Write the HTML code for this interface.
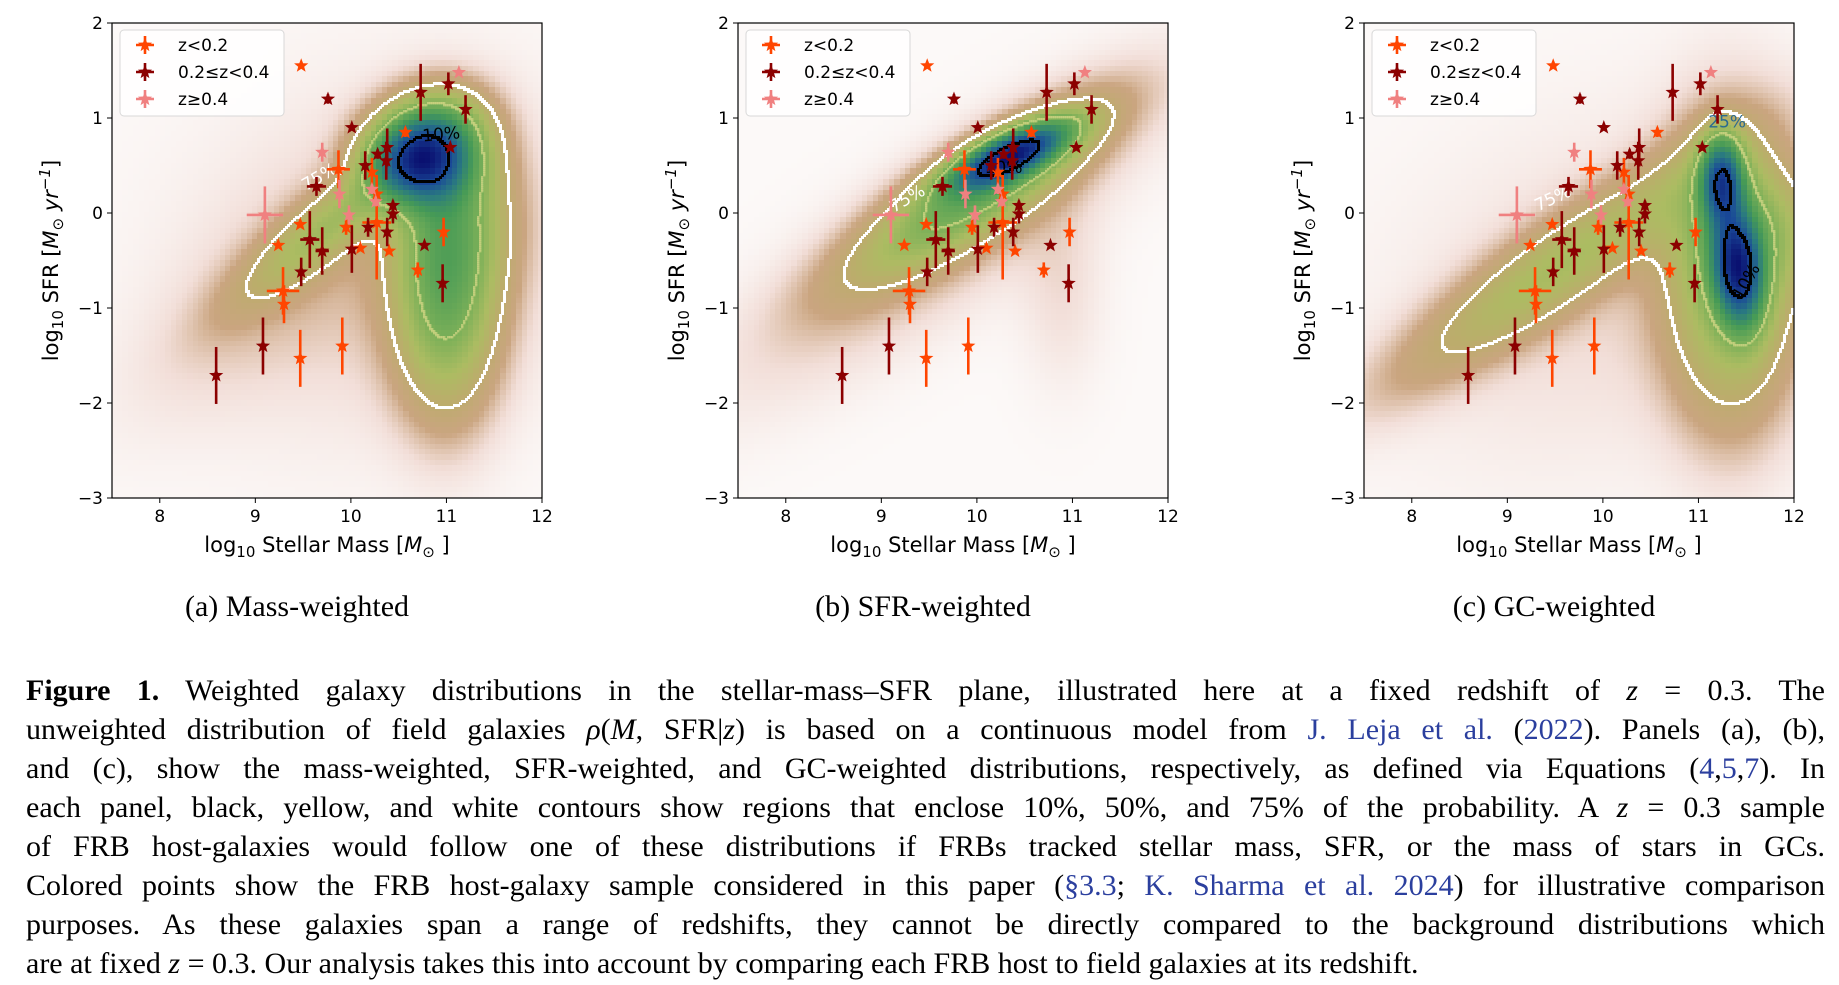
<!DOCTYPE html>
<html><head><meta charset="utf-8">
<style>
html,body{margin:0;padding:0;background:#fff;width:1839px;height:985px;overflow:hidden;position:relative;font-family:"DejaVu Sans","Liberation Sans",sans-serif}
canvas{position:absolute;image-rendering:pixelated}
#ov{position:absolute;left:0;top:0}
.sub{position:absolute;top:590px;font-family:"Liberation Serif",serif;font-size:30px;transform:translateX(-50%);white-space:nowrap}
.cap{position:absolute;left:26px;width:1799px;font-family:"Liberation Serif",serif;font-size:30px;line-height:39px;text-align:justify;text-align-last:justify;white-space:nowrap;overflow:visible}
.cap span.l{color:#2b3f9e}
.cap i{font-style:italic}
</style></head><body>
<canvas id="c0"></canvas>
<canvas id="c1"></canvas>
<canvas id="c2"></canvas>
<svg id="ov" width="1839" height="985"></svg>
<div class="sub" style="left:297px">(a) Mass-weighted</div>
<div class="sub" style="left:923px">(b) SFR-weighted</div>
<div class="sub" style="left:1554px">(c) GC-weighted</div>
<div>
<div class="cap" style="top:671px"><b>Figure 1.</b> Weighted galaxy distributions in the stellar-mass–SFR plane, illustrated here at a fixed redshift of <i>z</i> = 0.3. The</div>
<div class="cap" style="top:710px">unweighted distribution of field galaxies <i>ρ</i>(<i>M</i>, SFR|<i>z</i>) is based on a continuous model from <span class="l">J. Leja et al.</span> (<span class="l">2022</span>). Panels (a), (b),</div>
<div class="cap" style="top:749px">and (c), show the mass-weighted, SFR-weighted, and GC-weighted distributions, respectively, as defined via Equations (<span class="l">4</span>,<span class="l">5</span>,<span class="l">7</span>). In</div>
<div class="cap" style="top:788px">each panel, black, yellow, and white contours show regions that enclose 10%, 50%, and 75% of the probability. A <i>z</i> = 0.3 sample</div>
<div class="cap" style="top:827px">of FRB host-galaxies would follow one of these distributions if FRBs tracked stellar mass, SFR, or the mass of stars in GCs.</div>
<div class="cap" style="top:866px">Colored points show the FRB host-galaxy sample considered in this paper (<span class="l">§3.3</span>; <span class="l">K. Sharma et al. 2024</span>) for illustrative comparison</div>
<div class="cap" style="top:905px">purposes. As these galaxies span a range of redshifts, they cannot be directly compared to the background distributions which</div>
<div class="cap" style="top:944px;text-align-last:left">are at fixed <i>z</i> = 0.3. Our analysis takes this into account by comparing each FRB host to field galaxies at its redshift.</div>
</div>
<script>
// ---- data: FRB host sample ----
const mass  = [9.48,10.57,9.87,10.22,10.27,9.47,9.95,10.27,9.24,10.1,10.4,10.7,10.97,9.29,9.3,9.47,9.91,
               9.76,10.01,10.73,11.02,11.2,11.04,10.38,10.28,10.15,10.37,9.64,9.57,9.7,9.48,10.01,10.18,10.44,10.44,10.38,10.77,10.96,9.08,8.59,
               11.13,9.7,9.88,10.22,10.26,9.98,9.1];
const sfr   = [1.55,0.85,0.46,0.43,0.2,-0.12,-0.15,-0.1,-0.34,-0.37,-0.4,-0.6,-0.2,-0.82,-0.96,-1.53,-1.4,
               1.2,0.9,1.27,1.36,1.09,0.69,0.69,0.62,0.5,0.55,0.28,-0.28,-0.4,-0.62,-0.38,-0.15,0.08,-0.01,-0.2,-0.34,-0.74,-1.4,-1.71,
               1.48,0.64,0.2,0.25,0.12,-0.02,-0.02];
const xErr  = [0,0,0.12,0,0,0,0,0.15,0,0,0,0,0,0.17,0,0,0,
               0,0,0,0,0,0,0,0,0,0,0.1,0.1,0.07,0,0,0,0,0,0,0,0,0,0,
               0,0,0,0,0,0,0.19];
const yErrLo= [0,0.05,0.2,0.15,0.05,0,0.08,0.6,0,0,0,0.08,0.15,0.25,0.2,0.3,0.3,
               0.05,0,0.3,0.12,0.15,0,0.2,0.05,0.15,0.2,0.1,0.3,0.25,0.15,0.25,0.1,0.05,0.1,0.15,0,0.2,0.3,0.3,
               0,0.1,0.15,0.05,0.05,0.1,0.3];
const yErrHi= [0,0.05,0.2,0.15,0.05,0,0.08,0.5,0,0,0,0.08,0.15,0.25,0.2,0.3,0.3,
               0.05,0,0.3,0.12,0.15,0,0.2,0.05,0.15,0.2,0.1,0.3,0.25,0.15,0.25,0.1,0.05,0.1,0.15,0,0.2,0.3,0.3,
               0,0.1,0.15,0.05,0.05,0.1,0.3];
const group = [0,0,0,0,0,0,0,0,0,0,0,0,0,0,0,0,0,
               1,1,1,1,1,1,1,1,1,1,1,1,1,1,1,1,1,1,1,1,1,1,1,
               2,2,2,2,2,2,2];
const groupLabels = ["z<0.2","0.2≤z<0.4","z≥0.4"];
const groupColors = ["#ff4500","#8b0000","#f08080"];
const xTicks = [8,9,10,11,12];
const yTicks = [2,1,0,-1,-2,-3];
const yTickLabels = ["2","1","0","−1","−2","−3"];
// density model components per panel: [cx, cy, sigmaMajor, sigmaMinor, angleDeg, weight]
const compA = [[10.72,0.55,0.35,0.3,0,1.0],[11.0,-0.9,0.8,0.36,90,0.42],[9.75,-0.15,0.8,0.22,40,0.24],[10.95,0.9,0.35,0.3,0,0.3],[10.3,-0.5,1.4,1.2,30,0.06],[9.0,-1.0,1.2,0.5,40,0.04],[11.1,0.0,0.4,0.6,0,0.25]];
const compB = [[10.35,0.6,0.45,0.15,25,1.0],[10.0,0.2,1.0,0.28,33,0.4],[9.6,-0.3,1.8,0.5,35,0.08],[10.9,-0.8,0.7,0.3,90,0.04]];
const compC = [[11.25,0.35,0.3,0.15,90,0.9],[11.42,-0.6,0.4,0.17,95,1.0],[11.35,-0.7,1.0,0.45,90,0.4],[9.5,-0.6,1.35,0.3,35,0.28],[10,-0.8,1.6,1.2,30,0.05],[11.6,-0.2,0.5,0.45,0,0.2]];
const comps=[compA,compB,compC];
const contourLabels=[[["10%",10.95,0.77,-5,"#000"],["75%",9.7,0.33,-30,"#fff"]],[["10%",10.28,0.42,0,"#000"],["75%",9.3,0.1,-30,"#fff"]],[["10%",11.55,-0.75,-60,"#000"],["75%",9.5,0.1,-25,"#fff"],["25%",11.3,0.9,0,"#2a6a90"]]];

const L=[112,738,1364], T=23, W=430, H=475;
const xMin=7.5,xMax=12,yMin=-3,yMax=2;
function sx(p,v){return L[p]+(v-xMin)/(xMax-xMin)*W}
function sy(v){return T+(yMax-v)/(yMax-yMin)*H}
function dens(c,x,y){let s=0;for(const k of c){const a=k[4]*Math.PI/180,dx=x-k[0],dy=y-k[1];const u=dx*Math.cos(a)+dy*Math.sin(a),w=-dx*Math.sin(a)+dy*Math.cos(a);s+=k[5]*Math.exp(-0.5*(u*u/(k[2]*k[2])+w*w/(k[3]*k[3])))}return s}
const cmap=[[0,[252,249,248]],[0.03,[242,222,216]],[0.07,[202,165,128]],[0.13,[188,172,108]],[0.2,[172,188,98]],[0.3,[124,176,88]],[0.45,[70,154,86]],[0.6,[42,122,128]],[0.78,[26,74,152]],[1,[10,16,112]]];
function col(v){v=Math.max(0,Math.min(1,v));for(let i=1;i<cmap.length;i++){if(v<=cmap[i][0]){const a=cmap[i-1],b=cmap[i],t=(v-a[0])/(b[0]-a[0]);return a[1].map((q,j)=>Math.round(q+(b[1][j]-q)*t))}}return cmap[cmap.length-1][1]}
const levels=[[0.12,"#ffffff",1],[0.3,"rgba(225,220,140,0.6)",0.8],[0.8,"#000000",1]];
for(let p=0;p<3;p++){
  const cv=document.getElementById('c'+p);cv.width=W;cv.height=H;cv.style.left=L[p]+'px';cv.style.top=T+'px';
  const ctx=cv.getContext('2d');const c=comps[p];
  let mx=0;for(let i=0;i<200;i++)for(let j=0;j<200;j++){const d=dens(c,xMin+i*4.5/200,yMin+j*5/200);if(d>mx)mx=d}
  const cw=5.4,ch=5.4;
  for(let gx=0;gx<W;gx+=cw)for(let gy=0;gy<H;gy+=ch){
    const x=xMin+(gx+cw/2)/W*4.5,y=yMax-(gy+ch/2)/H*5;const v=dens(c,x,y)/mx;
    const k=col(v);ctx.fillStyle=`rgb(${k[0]},${k[1]},${k[2]})`;ctx.fillRect(Math.floor(gx),Math.floor(gy),Math.ceil(cw)+1,Math.ceil(ch)+1);
  }
  const st=2;const cols=Math.ceil(W/st)+1,rows=Math.ceil(H/st)+1;const g=[];
  for(let i=0;i<cols;i++){g[i]=[];for(let j=0;j<rows;j++){g[i][j]=dens(c,xMin+i*st/W*4.5,yMax-j*st/H*5)/mx}}
  for(const [lv,cl,sz] of levels){ctx.fillStyle=cl;
    for(let i=0;i<cols-1;i++)for(let j=0;j<rows-1;j++){const a=g[i][j]>lv;if(a!==(g[i+1][j]>lv)||a!==(g[i][j+1]>lv)){ctx.fillRect(i*st-1,j*st-1,sz*3,sz*3)}}}
}
const NS='http://www.w3.org/2000/svg';const ov=document.getElementById('ov');
function el(t,a,par){const e=document.createElementNS(NS,t);for(const k in a)e.setAttribute(k,a[k]);(par||ov).appendChild(e);return e}
function star(cx,cy,R){let pts=[];for(let i=0;i<10;i++){const r=i%2?R*0.42:R;const a=-Math.PI/2+i*Math.PI/5;pts.push((cx+r*Math.cos(a)).toFixed(1)+','+(cy+r*Math.sin(a)).toFixed(1))}return pts.join(' ')}
const names=['mass-weighted','sfr-weighted','gc-weighted'];
for(let p=0;p<3;p++){
  const gp=el('g',{});
  
  
  for(const cl of contourLabels[p]){const t=el('text',{x:sx(p,cl[1]),y:sy(cl[2]),'font-size':17,fill:cl[4],'text-anchor':'middle',transform:`rotate(${cl[3]} ${sx(p,cl[1])} ${sy(cl[2])})`},gp);t.textContent=cl[0];
    
    }
  for(let i=0;i<mass.length;i++){
    const g=el('g',{},gp);
    
    
    const c=groupColors[group[i]],X=sx(p,mass[i]),Y=sy(sfr[i]);
    if(xErr[i]>0)el('line',{x1:sx(p,mass[i]-xErr[i]),x2:sx(p,mass[i]+xErr[i]),y1:Y,y2:Y,stroke:c,'stroke-width':2.6},g);
    if(yErrLo[i]+yErrHi[i]>0)el('line',{x1:X,x2:X,y1:sy(sfr[i]-yErrLo[i]),y2:sy(sfr[i]+yErrHi[i]),stroke:c,'stroke-width':2.6},g);
    el('polygon',{points:star(X,Y,7.5),fill:c},g);
  }
  const fr=el('rect',{x:L[p],y:T,width:W,height:H,fill:'none',stroke:'#000','stroke-width':1.2},gp);
  
  
  for(const v of xTicks){const X=sx(p,v);el('line',{x1:X,x2:X,y1:T+H,y2:T+H+5,stroke:'#000','stroke-width':1},gp);
    const t=el('text',{x:X,y:T+H+24,'font-size':17,'text-anchor':'middle',fill:'#000'},gp);t.textContent=v;
    
    }
  yTicks.forEach((v,k)=>{const Y=sy(v);el('line',{x1:L[p]-5,x2:L[p],y1:Y,y2:Y,stroke:'#000','stroke-width':1},gp);
    const t=el('text',{x:L[p]-9,y:Y+6,'font-size':17,'text-anchor':'end',fill:'#000'},gp);t.textContent=yTickLabels[k];
    
    });
  const xl=el('text',{x:L[p]+W/2,y:552,'font-size':21,'text-anchor':'middle',fill:'#000'},gp);
  xl.innerHTML='log<tspan font-size="15" dy="5">10</tspan><tspan dy="-5"> Stellar Mass [</tspan><tspan font-style="italic">M</tspan><tspan font-size="15" dy="5">⊙</tspan><tspan dy="-5"> ]</tspan>';
  
  
  const yx=L[p]-54,yy=T+H/2;
  const yl=el('text',{x:yx,y:yy,'font-size':21,'text-anchor':'middle',fill:'#000',transform:`rotate(-90 ${yx} ${yy})`},gp);
  yl.innerHTML='log<tspan font-size="15" dy="5">10</tspan><tspan dy="-5"> SFR [</tspan><tspan font-style="italic">M</tspan><tspan font-size="15" dy="5">⊙</tspan><tspan dy="-5" font-style="italic"> yr</tspan><tspan font-size="15" dy="-8" font-style="italic">−1</tspan><tspan dy="8">]</tspan>';
  
  
  const lg=el('g',{},gp);
  
  
  el('rect',{x:L[p]+8,y:30,width:164,height:86,rx:4,fill:'rgba(255,255,255,0.85)',stroke:'#d8d8d8','stroke-width':1},lg);
  groupLabels.forEach((lab,k)=>{
    const e=el('g',{},lg);
    
    
    const cy=45+k*27,cx=L[p]+33;
    el('line',{x1:cx-9,x2:cx+9,y1:cy,y2:cy,stroke:groupColors[k],'stroke-width':2.6},e);
    el('line',{x1:cx,x2:cx,y1:cy-9,y2:cy+9,stroke:groupColors[k],'stroke-width':2.6},e);
    el('polygon',{points:star(cx,cy,7.5),fill:groupColors[k]},e);
    const t=el('text',{x:L[p]+66,y:cy+6,'font-size':17,fill:'#000'},e);t.textContent=lab;
  });
}
</script>
</body></html>
